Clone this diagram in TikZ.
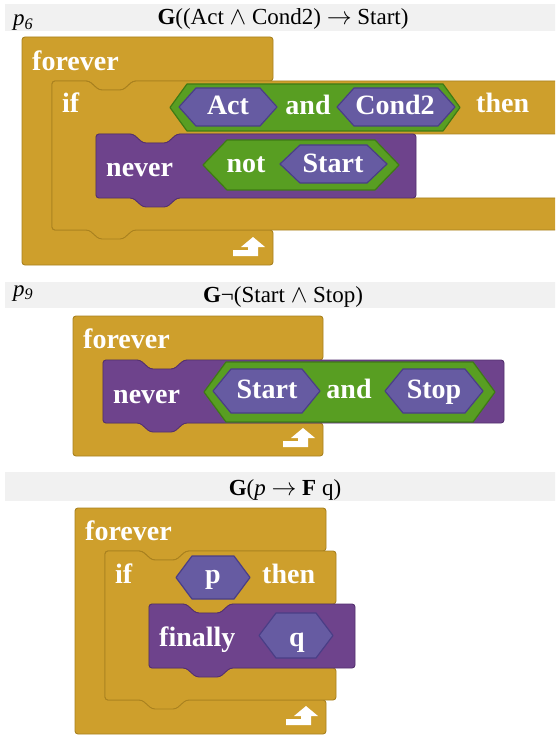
\documentclass[tikz,border=0pt]{standalone}
\usepackage{fontspec}
\setmainfont{Liberation Serif}

% block palette
\definecolor{ctrl}{HTML}{CE9F2C}
\definecolor{ctrledge}{HTML}{A9811F}
\definecolor{temporal}{HTML}{6E438C}
\definecolor{temporaledge}{HTML}{54306F}
\definecolor{atom}{HTML}{665BA2}
\definecolor{atomedge}{HTML}{4A3E86}
\definecolor{logic}{HTML}{589E22}
\definecolor{logicedge}{HTML}{3E7A15}
\definecolor{band}{HTML}{F1F1F1}

\newcommand\kwfont{\bfseries\fontsize{28}{32}\selectfont}
\newcommand\hdrfont{\fontsize{23}{27}\selectfont}

% C-shaped block with flat top and bottom: style, L, T, R, B, inner L, inner T, inner B
\newcommand\capC[8]{%
  \path[#1] (#2,#3) -- (#4,#3) -- (#4,#7) -- (#6+81,#7) -- (#6+71,#7+9) -- (#6+47,#7+9)
    -- (#6+37,#7) -- (#6,#7) -- (#6,#8) -- (#4,#8) -- (#4,#5) -- (#2,#5) -- cycle;}
% C-shaped block with notch on top and tab below
\newcommand\stackC[8]{%
  \path[#1] (#2,#3) -- (#2+37,#3) -- (#2+47,#3+9) -- (#2+71,#3+9) -- (#2+81,#3) -- (#4,#3)
    -- (#4,#7) -- (#6+81,#7) -- (#6+71,#7+9) -- (#6+47,#7+9) -- (#6+37,#7) -- (#6,#7)
    -- (#6,#8) -- (#4,#8) -- (#4,#5) -- (#2+81,#5) -- (#2+71,#5+9) -- (#2+47,#5+9)
    -- (#2+37,#5) -- (#2,#5) -- cycle;}
% plain stack block: style, L, T, R, B
\newcommand\stackblk[5]{%
  \path[#1] (#2,#3) -- (#2+37,#3) -- (#2+47,#3+9) -- (#2+71,#3+9) -- (#2+81,#3) -- (#4,#3)
    -- (#4,#5) -- (#2+81,#5) -- (#2+71,#5+9) -- (#2+47,#5+9) -- (#2+37,#5) -- (#2,#5) -- cycle;}
% boolean hexagon: style, x1, y1, x2, y2, slant
\newcommand\boolhex[6]{%
  \path[#1] (#2,#3/2+#5/2) -- (#2+#6,#3) -- (#4-#6,#3) -- (#4,#3/2+#5/2)
    -- (#4-#6,#5) -- (#2+#6,#5) -- cycle;}
% loop-back arrow in the corner of a forever block: right edge, bottom edge
\newcommand\retarrow[2]{%
  \fill[white] (#1-40,#2-15) -- (#1-25,#2-15) -- (#1-25,#2-18) -- (#1-32,#2-18)
    -- (#1-20,#2-28) -- (#1-8,#2-18) -- (#1-15,#2-18) -- (#1-15,#2-9) -- (#1-40,#2-9) -- cycle;}

\tikzset{
  ctrlblock/.style={fill=ctrl, draw=ctrledge, line width=0.9pt, rounded corners=3pt},
  tempblock/.style={fill=temporal, draw=temporaledge, line width=0.9pt, rounded corners=3pt},
  atomhex/.style={fill=atom, draw=atomedge, line width=1.2pt, line join=round},
  logichex/.style={fill=logic, draw=logicedge, line width=1.2pt, line join=round},
  kw/.style={text=white, font=\kwfont, inner sep=0pt, anchor=base west},
  kwc/.style={kw, anchor=base},
  hdr/.style={font=\hdrfont, inner sep=0pt, anchor=base},
  hdrlabel/.style={hdr, anchor=base west},
}

\begin{document}
\begin{tikzpicture}[x=1pt,y=-1pt]
\clip (0,0) rectangle (555,735);
\fill[white] (0,0) rectangle (555,735);

% ---------- p6 ----------
\fill[band] (5,4) rectangle (556,31);
\node[hdrlabel] (p6) at (13,26) {\textit{p}\textsubscript{\textit{6}}};
\node[hdr] (phi6) at (283,25) {\textbf{G}((Act $\wedge$ Cond2) $\rightarrow$ Start)};

\capC{ctrlblock}{22}{37}{273}{265}{52}{81}{230}
\retarrow{273}{265}
\node[kw] (fe1) at (32,71) {forever};
\stackC{ctrlblock}{52}{81}{575}{230}{96}{134}{198}
\node[kw] (if1) at (62,113) {if};
\boolhex{logichex}{170}{84}{460}{131}{17}
\boolhex{atomhex}{179}{88}{277}{126}{17}
\node[kwc] (act1) at (228,115) {Act};
\node[kwc] (and1) at (308,115) {and};
\boolhex{atomhex}{337}{88}{455}{126}{17}
\node[kwc] (cond1) at (395,115) {Cond2};
\node[kw] (then1) at (476,113) {then};
\stackblk{tempblock}{96}{134}{416}{198}
\node[kw] (nev1) at (106,177) {never};
\boolhex{logichex}{203}{140}{399}{190}{24}
\node[kwc] (not1) at (246,173) {not};
\boolhex{atomhex}{280}{145}{387}{183}{20}
\node[kwc] (start1) at (333,173) {Start};

% ---------- p9 ----------
\fill[band] (5,282) rectangle (556,308);
\node[hdrlabel] (p9) at (13,296) {\textit{p}\textsubscript{\textit{9}}};
\node[hdr] (phi9) at (283,302) {\textbf{G}¬(Start $\wedge$ Stop)};

\capC{ctrlblock}{73}{316}{323}{456}{103}{360}{423}
\retarrow{323}{456}
\node[kw] (fe2) at (83,348) {forever};
\stackblk{tempblock}{103}{360}{504}{423}
\node[kw] (nev2) at (113,403) {never};
\boolhex{logichex}{204}{362}{495}{422}{22}
\boolhex{atomhex}{213}{369}{320}{413}{18}
\node[kwc] (start2) at (267,398) {Start};
\node[kwc] (and2) at (349,398) {and};
\boolhex{atomhex}{385}{369}{483}{413}{18}
\node[kwc] (stop2) at (434,398) {Stop};

% ---------- response ----------
\fill[band] (5,472) rectangle (556,501);
\node[hdr] (phi3) at (285,495) {\textbf{G}(\textit{p} $\rightarrow$ \textbf{F} q)};

\capC{ctrlblock}{75}{508}{326}{734}{105}{551}{700}
\retarrow{326}{734}
\node[kw] (fe3) at (85,540) {forever};
\stackC{ctrlblock}{105}{551}{336}{700}{149}{604}{668}
\node[kw] (if3) at (115,583) {if};
\boolhex{atomhex}{176}{556}{250}{599}{16}
\node[kwc] (p3) at (213,583) {p};
\node[kw] (then3) at (262,583) {then};
\stackblk{tempblock}{149}{604}{355}{668}
\node[kw] (fin3) at (159,646) {finally};
\boolhex{atomhex}{259}{613}{333}{658}{17}
\node[kwc] (q3) at (297,646) {q};
\end{tikzpicture}
\end{document}
